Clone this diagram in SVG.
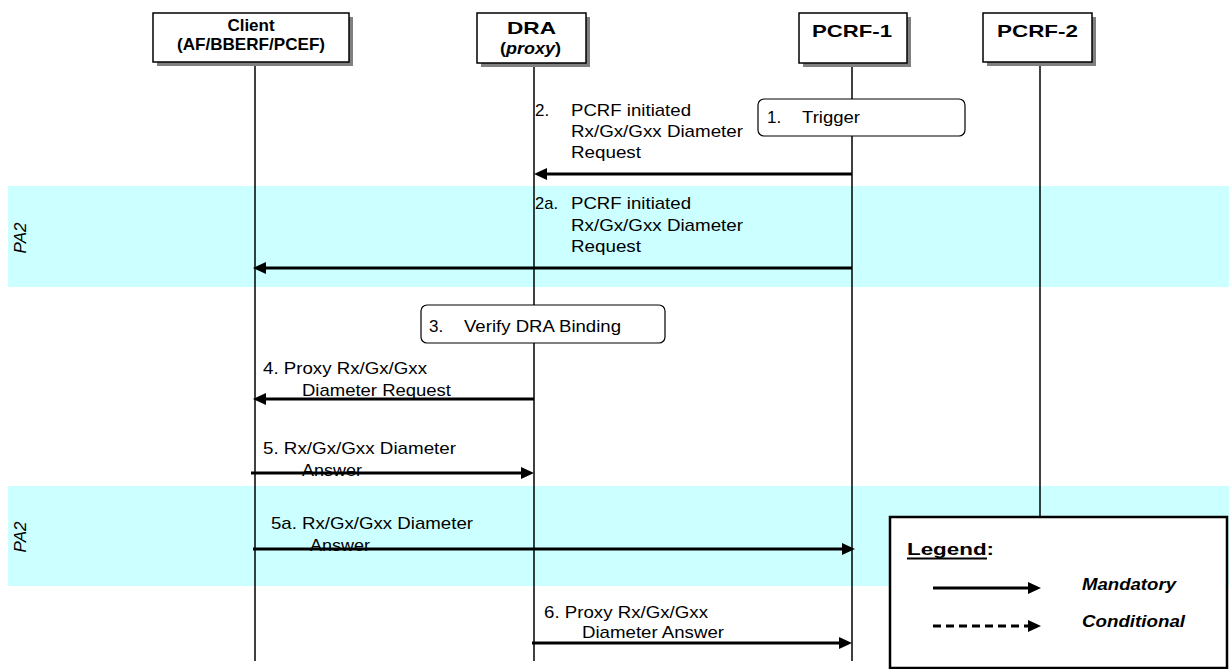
<svg xmlns="http://www.w3.org/2000/svg" width="1229" height="669" viewBox="0 0 1229 669">
<style>
.t{font-family:"Liberation Sans",Arial,sans-serif;font-size:17px;fill:#000}
.b{font-weight:bold}
.box{fill:#fff;stroke:#000;stroke-width:1.5}
.sh{fill:#808080}
.life{stroke:#000;stroke-width:1.5}
.msg{stroke:#000;stroke-width:3;fill:none;marker-end:url(#ah)}
.band{fill:#CCFFFF}
.rbox{fill:#fff;stroke:#000;stroke-width:1.2}
</style>
<defs>
<marker id="ah" markerUnits="userSpaceOnUse" markerWidth="13" markerHeight="12" refX="6" refY="6" orient="auto">
<path d="M0,0 L13,6 L0,12 z" fill="#000"/>
</marker>
</defs>
<rect width="1229" height="669" fill="#fff"/>
<g id="bands">
<rect class="band" x="8" y="186" width="1221" height="101"/>
<rect class="band" x="8" y="486" width="1221" height="100"/>
<text class="t" font-style="italic" transform="translate(26,238) rotate(-90)" text-anchor="middle">PA2</text>
<text class="t" font-style="italic" transform="translate(26,537) rotate(-90)" text-anchor="middle">PA2</text>
</g>
<g id="lifelines">
<line class="life" x1="255" y1="66" x2="255" y2="661"/>
<line class="life" x1="534" y1="67" x2="534" y2="661"/>
<line class="life" x1="852" y1="67" x2="852" y2="661"/>
<line class="life" x1="1040" y1="66" x2="1040" y2="517"/>
</g>
<g id="client">
<rect class="sh" x="157" y="17" width="196" height="49"/>
<rect class="box" x="153" y="13" width="196" height="49"/>
<text class="t b" x="251" y="31" text-anchor="middle" font-size="14">Client</text>
<text class="t b" x="177" y="50" font-size="15" textLength="148" lengthAdjust="spacingAndGlyphs">(AF/BBERF/PCEF)</text>
</g>
<g id="dra">
<rect class="sh" x="481" y="17" width="109" height="50"/>
<rect class="box" x="477" y="13" width="109" height="50"/>
<text class="t b" x="507" y="34" font-size="18" textLength="49" lengthAdjust="spacingAndGlyphs">DRA</text>
<text class="t b" x="500" y="54" font-size="16" textLength="61" lengthAdjust="spacingAndGlyphs">(<tspan font-style="italic">proxy</tspan>)</text>
</g>
<g id="pcrf1">
<rect class="sh" x="803" y="17" width="108" height="50"/>
<rect class="box" x="799" y="13" width="108" height="50"/>
<text class="t b" x="812" y="37" font-size="20" textLength="80" lengthAdjust="spacingAndGlyphs">PCRF-1</text>
</g>
<g id="pcrf2">
<rect class="sh" x="987" y="17" width="109" height="49"/>
<rect class="box" x="983" y="13" width="109" height="49"/>
<text class="t b" x="997" y="37" font-size="20" textLength="81" lengthAdjust="spacingAndGlyphs">PCRF-2</text>
</g>
<g id="trigger">
<rect class="rbox" x="758" y="99" width="207" height="37" rx="6"/>
<text class="t" x="767" y="123">1.</text>
<text class="t" x="802" y="123" textLength="58" lengthAdjust="spacingAndGlyphs">Trigger</text>
</g>
<g id="verify">
<rect class="rbox" x="421" y="305" width="244" height="38" rx="6"/>
<text class="t" x="429" y="332">3.</text>
<text class="t" x="464" y="332" textLength="157" lengthAdjust="spacingAndGlyphs">Verify DRA Binding</text>
</g>
<g id="labels">
<text class="t" x="535" y="116">2.</text>
<text class="t" x="571" y="116" textLength="120" lengthAdjust="spacingAndGlyphs">PCRF initiated</text>
<text class="t" x="571" y="137" textLength="172" lengthAdjust="spacingAndGlyphs">Rx/Gx/Gxx Diameter</text>
<text class="t" x="571" y="158" textLength="70" lengthAdjust="spacingAndGlyphs">Request</text>
<text class="t" x="535" y="209" textLength="23" lengthAdjust="spacingAndGlyphs">2a.</text>
<text class="t" x="571" y="209" textLength="120" lengthAdjust="spacingAndGlyphs">PCRF initiated</text>
<text class="t" x="571" y="231" textLength="172" lengthAdjust="spacingAndGlyphs">Rx/Gx/Gxx Diameter</text>
<text class="t" x="571" y="252" textLength="70" lengthAdjust="spacingAndGlyphs">Request</text>
<text class="t" x="263" y="374" textLength="164" lengthAdjust="spacingAndGlyphs">4. Proxy Rx/Gx/Gxx</text>
<text class="t" x="302" y="396" textLength="149" lengthAdjust="spacingAndGlyphs">Diameter Request</text>
<text class="t" x="263" y="454" textLength="193" lengthAdjust="spacingAndGlyphs">5. Rx/Gx/Gxx Diameter</text>
<text class="t" x="302" y="476" textLength="60" lengthAdjust="spacingAndGlyphs">Answer</text>
<text class="t" x="271" y="529" textLength="202" lengthAdjust="spacingAndGlyphs">5a. Rx/Gx/Gxx Diameter</text>
<text class="t" x="310" y="551" textLength="60" lengthAdjust="spacingAndGlyphs">Answer</text>
<text class="t" x="544" y="618" textLength="164" lengthAdjust="spacingAndGlyphs">6. Proxy Rx/Gx/Gxx</text>
<text class="t" x="582" y="638" textLength="142" lengthAdjust="spacingAndGlyphs">Diameter Answer</text>
</g>
<g id="connectors">
<line class="msg" x1="852" y1="174" x2="541" y2="174"/>
<line class="msg" x1="852" y1="268" x2="260" y2="268"/>
<line class="msg" x1="534" y1="399" x2="260" y2="399"/>
<line class="msg" x1="251" y1="473" x2="527" y2="473"/>
<line class="msg" x1="253" y1="549" x2="848" y2="549"/>
<line class="msg" x1="532" y1="643" x2="845" y2="643"/>
</g>
<g id="legend">
<rect x="890" y="517" width="337" height="151" fill="#fff" stroke="#000" stroke-width="2.5"/>
<text class="t b" x="907" y="555" font-size="20" textLength="87" lengthAdjust="spacingAndGlyphs">Legend:</text>
<line x1="907" y1="558.5" x2="987" y2="558.5" stroke="#000" stroke-width="2"/>
<line class="msg" x1="933" y1="588" x2="1034" y2="588"/>
<line class="msg" x1="933" y1="626" x2="1034" y2="626" stroke-dasharray="8,5"/>
<text class="t b" x="1082" y="590" font-style="italic" textLength="94" lengthAdjust="spacingAndGlyphs">Mandatory</text>
<text class="t b" x="1082" y="627" font-style="italic" textLength="103" lengthAdjust="spacingAndGlyphs">Conditional</text>
</g>
</svg>
